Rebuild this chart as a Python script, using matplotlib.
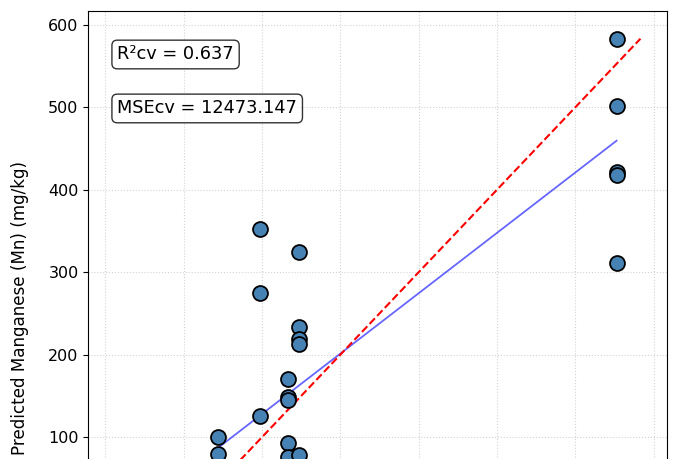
import matplotlib
matplotlib.use("Agg")
import matplotlib.pyplot as plt
import numpy as np

# values (mg/kg)
actual_mn = [43.3, 43.3,
             97.8, 97.8, 97.8,
             133.2, 133.2, 133.2, 133.2, 133.2,
             147.6, 147.6, 147.6, 147.6, 147.6,
             552.5, 552.5, 552.5, 552.5, 552.5]
predicted_mn = [100.4, 79.6,
                351.8, 274.7, 125.3,
                170.0, 148.4, 145.0, 92.5, 75.5,
                324.0, 233.4, 219.3, 212.4, 78.4,
                583.0, 501.6, 421.0, 417.7, 311.7]

# regression line of predicted vs actual
fit_slope = 0.732
fit_intercept = 54.9

# range of the 1:1 line
ident_lo, ident_hi = -88.0, 583.0

r2_cv = 0.637
mse_cv = 12473.147


def main():
    fig = plt.figure(figsize=(6.8, 4.59), dpi=100)
    # the reference is a crop of a taller figure: axes run past the bottom edge
    ax = fig.add_axes([0.1299, -0.3508, 0.8506, 1.3268])

    x = np.asarray(actual_mn)
    y = np.asarray(predicted_mn)

    ax.scatter(x, y, s=115, color="steelblue", edgecolor="black",
               linewidth=1.3, zorder=3)

    xs = np.array([x.min(), x.max()])
    ax.plot(xs, fit_slope * xs + fit_intercept, color="blue", alpha=0.6,
            linewidth=1.3, zorder=2)

    ax.plot([ident_lo, ident_hi], [ident_lo, ident_hi], "r--",
            linewidth=1.5, zorder=2)

    pad = 0.05 * (ident_hi - ident_lo)
    lims = (ident_lo - pad, ident_hi + pad)
    ax.set_xlim(lims)
    ax.set_ylim(lims)
    ax.set_xticks(np.arange(-100, 601, 100))
    # only the ticks that fall inside the visible crop
    ax.set_yticks(np.arange(100, 601, 100))

    ax.grid(True, linestyle=":", color="gray", alpha=0.35)
    # x tick labels and x label lie below the cropped area
    ax.tick_params(labelsize=11.5, labelbottom=False)
    ax.set_ylabel("Predicted Manganese (Mn) (mg/kg)", fontsize=12.1)
    ax.yaxis.set_label_coords(-0.102, 0.512)

    box = dict(boxstyle="round,pad=0.3", facecolor="white",
               edgecolor="black", alpha=0.8)
    ax.text(0.05, 0.9286, f"R\u00b2cv = {r2_cv:.3f}", transform=ax.transAxes,
            fontsize=12.8, va="center", ha="left", bbox=box)
    ax.text(0.05, 0.840, f"MSEcv = {mse_cv:.3f}", transform=ax.transAxes,
            fontsize=12.8, va="center", ha="left", bbox=box)

    fig.savefig("out.png", dpi=100)


if __name__ == "__main__":
    main()
